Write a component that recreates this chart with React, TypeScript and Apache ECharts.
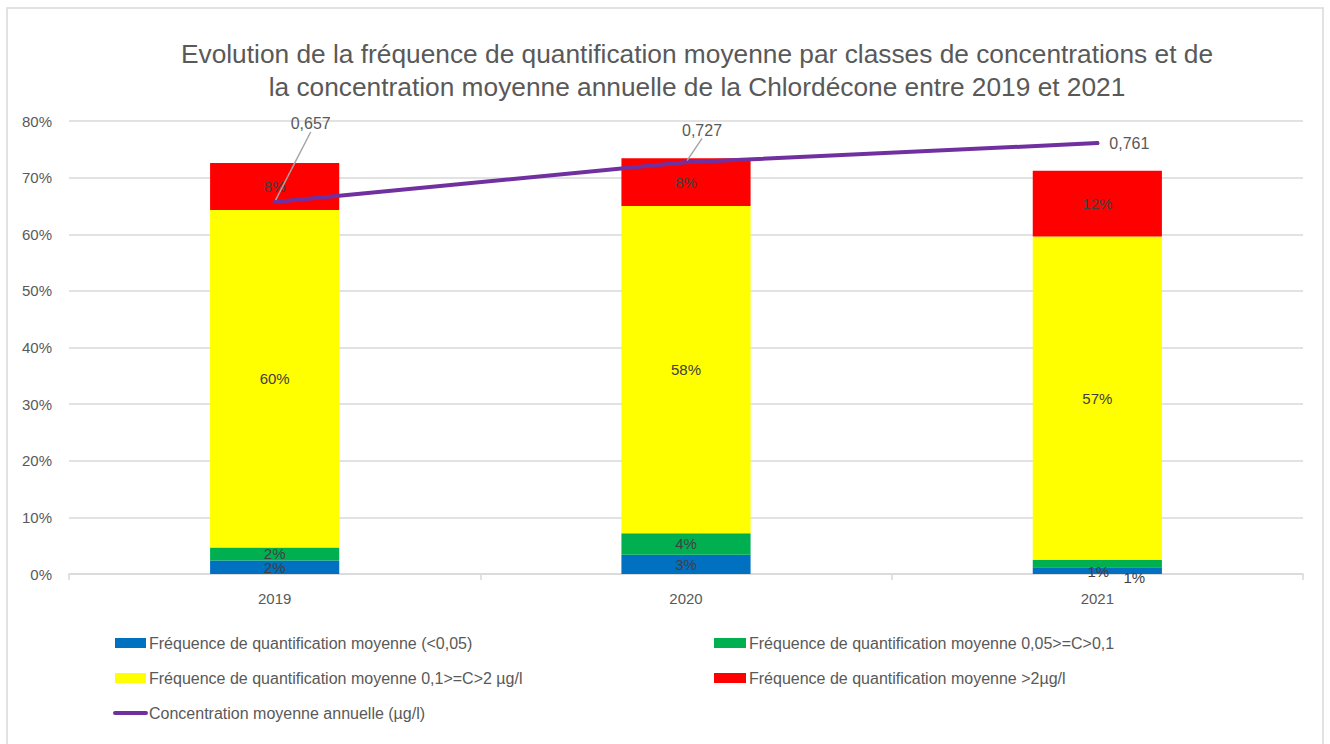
import React, { useEffect, useRef } from "react";
import * as echarts from "echarts";

const years = ["2019", "2020", "2021"];
const freqLow = [0.024, 0.034, 0.012];
const freqMid = [0.023, 0.038, 0.013];
const freqHigh = [0.596, 0.578, 0.571];
const freqOver = [0.083, 0.084, 0.116];
const concentration = [0.657, 0.727, 0.761];

const nameLow = "Fréquence de quantification moyenne (<0,05)";
const nameMid = "Fréquence de quantification moyenne 0,05>=C>0,1";
const nameHigh = "Fréquence de quantification moyenne 0,1>=C>2 µg/l";
const nameOver = "Fréquence de quantification moyenne >2µg/l";
const nameLine = "Concentration moyenne annuelle (µg/l)";

const FONT = "Liberation Sans, Arial, sans-serif";

export default function App() {
  const ref = useRef<HTMLDivElement>(null);
  useEffect(() => {
    if (!ref.current) return;
    const chart = echarts.init(ref.current, null, { renderer: "svg" });
    const pct = (p: any) => Math.round(p.value * 100) + "%";
    const segLabel = {
      show: true,
      position: "inside",
      formatter: pct,
      color: "#404040",
      fontSize: 15,
      fontFamily: FONT,
    };
    const bar = (name: string, data: number[], color: string, offsets?: Record<number, number[]>) => ({
      name,
      type: "bar",
      stack: "f",
      barWidth: "31.4%",
      data: data.map((v, i) =>
        offsets && offsets[i] ? { value: v, label: { offset: offsets[i] } } : v
      ),
      itemStyle: { color },
      label: segLabel,
    });
    const legendText = { color: "#595959", fontSize: 16, fontFamily: FONT, padding: [0, 0, 0, -2] };
    const option: any = {
      animation: false,
      backgroundColor: "#ffffff",
      textStyle: { fontFamily: FONT },
      title: {
        text:
          "Evolution de la fréquence de quantification moyenne par classes de concentrations et de\nla concentration moyenne annuelle de la Chlordécone entre 2019 et 2021",
        left: 692,
        textAlign: "center",
        top: 32,
        textStyle: {
          color: "#595959",
          fontSize: 26.3,
          fontWeight: "normal",
          fontFamily: FONT,
          lineHeight: 33,
        },
      },
      grid: { left: 69, right: 27, top: 121, bottom: 170, containLabel: false },
      xAxis: {
        type: "category",
        data: years,
        axisLine: { lineStyle: { color: "#D9D9D9", width: 1.5 } },
        axisTick: { show: true, length: 6, lineStyle: { color: "#D9D9D9", width: 1.5 } },
        axisLabel: { color: "#595959", fontSize: 15, margin: 17, fontFamily: FONT },
      },
      yAxis: {
        type: "value",
        min: 0,
        max: 0.8,
        interval: 0.1,
        axisLine: { show: false },
        axisTick: { show: false },
        splitLine: { lineStyle: { color: "#D9D9D9", width: 1.5 } },
        axisLabel: {
          color: "#595959",
          fontSize: 15,
          margin: 17,
          fontFamily: FONT,
          formatter: (v: number) => Math.round(v * 100) + "%",
        },
      },
      legend: [
        {
          orient: "vertical",
          left: 108,
          top: 630,
          itemGap: 19,
          itemWidth: 31,
          itemHeight: 10,
          data: [
            { name: nameLow, icon: "rect" },
            { name: nameHigh, icon: "rect" },
            { name: nameLine, itemStyle: { opacity: 0 }, lineStyle: { width: 4, color: "#7030A0", cap: "round" } },
          ],
          textStyle: legendText,
        },
        {
          orient: "vertical",
          left: 709,
          top: 630,
          itemGap: 19,
          itemWidth: 32,
          itemHeight: 10,
          data: [
            { name: nameMid, icon: "rect" },
            { name: nameOver, icon: "rect" },
          ],
          textStyle: legendText,
        },
      ],
      graphic: [
        {
          type: "rect",
          shape: { x: 7, y: 8, width: 1316, height: 745 },
          style: { fill: "none", stroke: "#D9D9D9", lineWidth: 1.5 },
          silent: true,
        },
      ],
      series: [
        bar(nameLow, freqLow, "#0070C0", { 2: [37, 7] }),
        bar(nameMid, freqMid, "#00B050", { 2: [1, 8] }),
        bar(nameHigh, freqHigh, "#FFFF00"),
        bar(nameOver, freqOver, "#FF0000"),
        {
          name: nameLine,
          type: "line",
          data: concentration.map((v, i) =>
            i === 2 ? { value: v, labelLine: { show: false } } : v
          ),
          symbol: "circle",
          symbolSize: 4,
          z: 5,
          lineStyle: { color: "#7030A0", width: 4, cap: "round" },
          itemStyle: { color: "#7030A0" },
          label: {
            show: true,
            position: "right",
            distance: 10,
            color: "#595959",
            fontSize: 16,
            fontFamily: FONT,
            formatter: (p: any) => p.value.toFixed(3).replace(".", ","),
          },
          labelLine: { show: true, lineStyle: { color: "#A6A6A6", width: 1.5 } },
          labelLayout: (p: any) => {
            if (p.dataIndex === 0) return { dx: 4, dy: -78 };
            if (p.dataIndex === 1) return { dx: -16, dy: -32 };
            return {};
          },
        },
      ],
    };
    chart.setOption(option);
    return () => chart.dispose();
  }, []);
  return (
    <div
      ref={ref}
      style={{ position: "absolute", left: 0, top: 0, width: 1330, height: 744 }}
    />
  );
}
